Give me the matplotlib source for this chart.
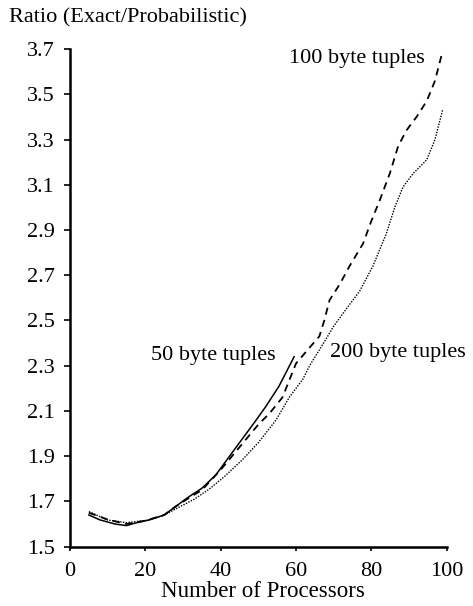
import matplotlib
matplotlib.use("Agg")
from matplotlib import pyplot

pyplot.rcParams['font.family'] = ['Liberation Serif', 'DejaVu Serif']

# 50 byte tuples (solid)
procs_50 = [5, 8, 12, 15, 17, 21, 25, 28, 31.5, 35, 38.7, 41.3, 45, 49, 52, 55.5, 59.5]
ratio_50 = [1.64, 1.618, 1.60, 1.593, 1.603, 1.618, 1.64, 1.677, 1.72, 1.758,
            1.817, 1.876, 1.96, 2.05, 2.12, 2.21, 2.34]

# 100 byte tuples (dashed)
procs_100 = [5, 10, 15, 20, 25, 28, 32, 35, 40, 45, 50, 53, 56.4, 60, 63.6,
             66.2, 67.5, 68.9, 71.6, 74.2, 77.8, 80, 82.2, 84.9, 87.1, 89.3,
             92, 94.7, 96.9, 98.9]
ratio_100 = [1.65, 1.62, 1.60, 1.615, 1.64, 1.677, 1.72, 1.75, 1.84, 1.94,
             2.04, 2.09, 2.16, 2.31, 2.38, 2.43, 2.50, 2.59, 2.66, 2.74, 2.84,
             2.94, 3.03, 3.15, 3.27, 3.34, 3.40, 3.47, 3.56, 3.69]

# 200 byte tuples (dotted)
procs_200 = [5, 10, 15, 21, 25, 29, 33, 37, 41, 45.8, 50, 54.7, 58.2, 61.8,
             63.6, 66.2, 68.4, 69.8, 73.3, 76.9, 80.4, 84, 86.2, 88.4, 91.1,
             94.7, 96.9, 98.9]
ratio_200 = [1.655, 1.618, 1.606, 1.618, 1.64, 1.675, 1.71, 1.755, 1.81, 1.885,
             1.96, 2.06, 2.16, 2.24, 2.30, 2.37, 2.43, 2.47, 2.55, 2.63, 2.74,
             2.885, 3.00, 3.09, 3.15, 3.21, 3.30, 3.43]

x_ticks = [0, 20, 40, 60, 80, 100]
y_ticks = [1.5, 1.7, 1.9, 2.1, 2.3, 2.5, 2.7, 2.9, 3.1, 3.3, 3.5, 3.7]

fig = pyplot.figure(figsize=(4.73, 6.06), dpi=100)
ax = fig.add_axes([0.1480, 0.0979, 0.7964, 0.8212])

ax.plot(procs_50, ratio_50, color='black', linestyle='-', lw=1.1)
ax.plot(procs_100, ratio_100, color='black', linestyle=(0, (4, 3)), lw=1.3)
ax.plot(procs_200, ratio_200, color='black', linestyle=(0, (1, 1)), lw=1.0)

ax.set_xlim(0, 100)
ax.set_ylim(1.5, 3.7)
ax.set_xticks(x_ticks)
ax.set_yticks(y_ticks)
ax.set_xticklabels([str(t) for t in x_ticks])
ax.set_yticklabels(['%.1f' % t for t in y_ticks])
ax.tick_params(labelsize=16, direction='out', length=4, width=1.2)
ax.tick_params(axis='y', pad=7)
ax.tick_params(axis='x', length=3, pad=8)

for side in ['top', 'right']:
    ax.spines[side].set_visible(False)
for side in ['left', 'bottom']:
    ax.spines[side].set_linewidth(1.8)

fig.text(0.556, 0.024, "Number of Processors", fontsize=16.5, ha='center', va='center')
fig.text(0.018, 0.970, "Ratio (Exact/Probabilistic)", fontsize=16, ha='left', va='center')

ax.text(94.2, 3.656, "100 byte tuples", fontsize=16, ha='right', va='center')
ax.text(54.5, 2.347, "50 byte tuples", fontsize=16, ha='right', va='center')
ax.text(68.9, 2.36, "200 byte tuples", fontsize=16, ha='left', va='center', clip_on=False)

pyplot.savefig('out.png', dpi=100)
